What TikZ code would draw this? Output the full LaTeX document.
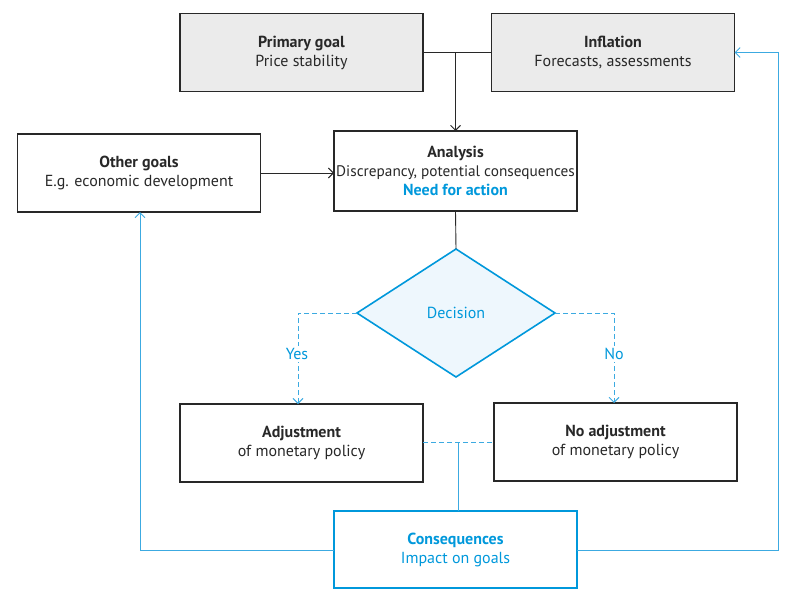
\documentclass[tikz,border=0pt]{standalone}
\usepackage{fontspec}
\setmainfont{PT Sans}
\usetikzlibrary{shapes.geometric,arrows.meta,positioning}
\definecolor{oblue}{RGB}{0,152,219}
\definecolor{lblue}{RGB}{60,170,225}
\definecolor{dgray}{RGB}{40,40,40}
\definecolor{boxgray}{RGB}{235,235,235}
\definecolor{decfill}{RGB}{238,247,253}
\tikzset{
  box/.style={draw=dgray, line width=1.3pt, rectangle, minimum width=243pt, minimum height=78pt,
    inner sep=0pt, outer sep=0pt, align=center, text=dgray, font=\fontsize{16}{19}\selectfont},
  graybox/.style={box, fill=boxgray},
  consbox/.style={box, draw=oblue, line width=2pt, text=oblue},
  decbox/.style={diamond, draw=oblue, line width=1.6pt, fill=decfill, minimum width=198pt,
    minimum height=128pt, inner sep=0pt, outer sep=0pt, text=oblue, font=\fontsize{16}{19}\selectfont},
  conn/.style={draw=dgray, line width=0.9pt},
  bconn/.style={draw=lblue, line width=0.9pt},
  dconn/.style={draw=lblue, line width=0.9pt, dash pattern=on 5pt off 3pt},
  tip/.style={-{Straight Barb[length=5pt,width=10pt]}},
  lbl/.style={fill=white, text=oblue, inner sep=2pt, font=\fontsize{16}{19}\selectfont}
}
\begin{document}
\begin{tikzpicture}[x=1pt,y=-1pt]
\useasboundingbox (0,0) rectangle (797,600);
\node[graybox] (prim) at (301.5,52.5) {\textbf{Primary goal}\\Price stability};
\node[graybox] (infl) at (613,52.5) {\textbf{Inflation}\\Forecasts, assessments};
\node[box, minimum height=80pt] (ana) at (455.5,171) {\textbf{Analysis}\\{\fontsize{15.3}{19}\selectfont Discrepancy, potential consequences}\\\textcolor{oblue}{\textbf{Need for action}}};
\node[box] (oth) at (139,173) {\textbf{Other goals}\\E.g. economic development};
\node[decbox] (dec) at (456,313) {Decision};
\node[box] (adj) at (301.5,443) {\textbf{Adjustment}\\of monetary policy};
\node[box] (noadj) at (615.5,442) {\textbf{No adjustment}\\of monetary policy};
\node[consbox, minimum height=77pt] (cons) at (455.5,549.5) {\textbf{Consequences}\\Impact on goals};
% top connectors
\coordinate (j1) at (455.5,52.5);
\draw[conn] (prim.east) -- (infl.west);
\draw[conn, tip] (j1) -- (ana.north);
\draw[conn, tip] (oth.east) -- (oth.east -| ana.west);
\draw[conn] (ana.south) -- (dec.north);
% decision branches
\coordinate (yk) at (298,313);
\coordinate (nk) at (614,313);
\draw[dconn, tip] (dec.west) -- (yk) -- (yk |- adj.north);
\draw[dconn, tip] (dec.east) -- (nk) -- (nk |- noadj.north);
\node[lbl] (yes) at (297,354) {Yes};
\node[lbl] (no) at (614,354) {No};
% merge
\coordinate (mj) at (458,442);
\draw[dconn] (adj.east |- mj) -- (noadj.west |- mj);
\draw[bconn] (mj) -- (mj |- cons.north);
% feedback
\coordinate (lc) at (140,550);
\coordinate (rc) at (778,550);
\coordinate (rt) at (778,52.5);
\draw[bconn, tip] (cons.west |- lc) -- (lc) -- (lc |- oth.south);
\draw[bconn, tip] (cons.east |- rc) -- (rc) -- (rt) -- (infl.east |- rt);
\end{tikzpicture}
\end{document}
